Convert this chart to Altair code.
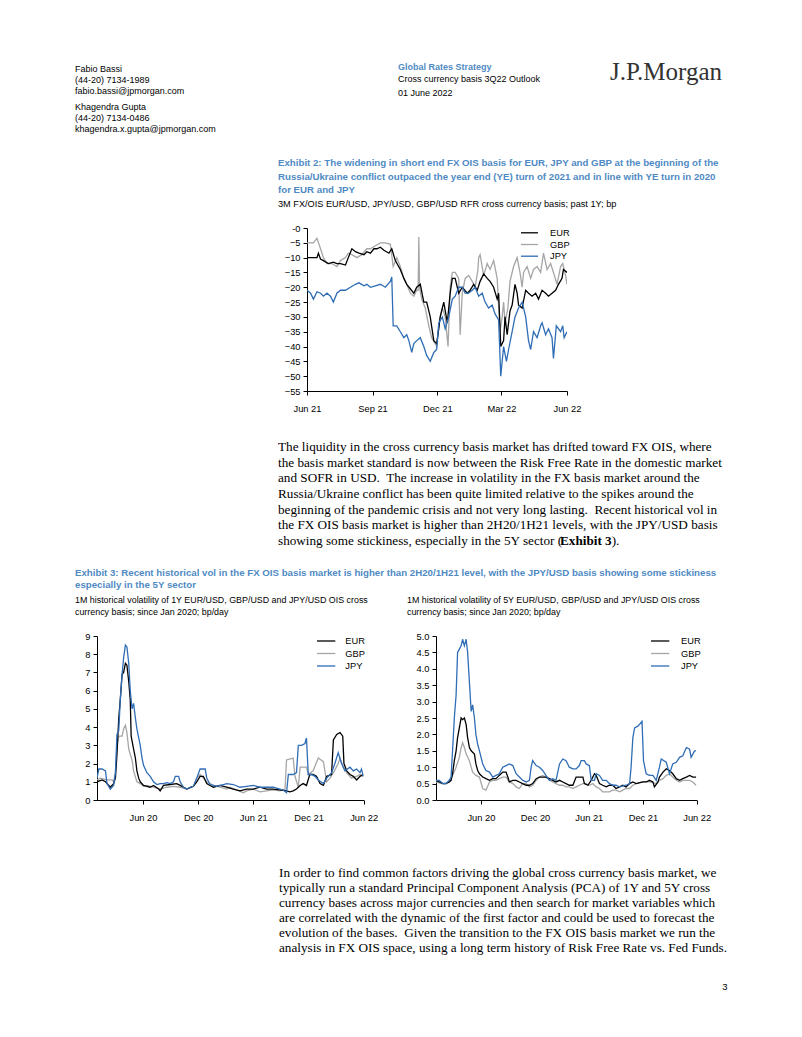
import altair as alt
import pandas as pd

# ---------------- data ----------------
series_names = ["EUR", "GBP", "JPY"]
series_colors = {"EUR": "#000000", "GBP": "#a6a6a6", "JPY": "#2f6db5"}

# Exhibit 2: 3M FX/OIS basis, past 1Y (days since 2021-06-01, bp)
ex2_start = "2021-06-01"
ex2_eur_days = [0, 9, 14, 16, 19, 23, 30, 37, 42, 47, 54, 58, 63, 68, 73, 80, 84, 89, 94, 98, 103, 108, 115, 119,
                124, 131, 136, 140, 145, 150, 154, 159, 164, 168, 173, 178, 182, 185, 187, 192, 197, 201, 204, 208,
                213, 218, 225, 229, 234, 239, 243, 248, 253, 257, 262, 267, 269, 272, 276, 278, 281, 285, 288, 292,
                295, 297, 302, 307, 311, 316, 321, 325, 330, 335, 339, 344, 349, 353, 358, 360, 365]
ex2_eur_vals = [-10, -10, -10, -8.5, -10.5, -11, -12, -11.5, -12, -12, -12.5, -10, -7, -8, -8.5, -9, -8, -8.5, -7, -7,
                -6.5, -7.5, -8.5, -7, -11, -14, -17, -19, -20.5, -22, -20, -19, -25, -25, -30, -38, -39, -34, -30,
                -25, -32, -22, -17, -17, -22, -20, -22, -21, -19, -21, -18, -15.5, -17, -18, -20, -24, -22, -40,
                -38, -30, -36, -28, -26, -19, -22, -26, -27, -21, -22, -23, -22, -24, -21, -22, -23, -22, -21, -19,
                -17, -14, -15]
ex2_gbp_days = [0, 9, 14, 19, 23, 28, 35, 42, 47, 54, 58, 63, 70, 77, 84, 89, 96, 103, 110, 117, 121, 126, 131, 136,
                140, 145, 150, 154, 156, 157, 158, 161, 166, 171, 175, 180, 182, 186, 190, 194, 198, 201, 204, 208,
                213, 215, 218, 222, 227, 232, 236, 240, 241, 243, 248, 253, 257, 262, 267, 271, 274, 276, 278, 282,
                285, 290, 295, 299, 302, 304, 309, 314, 318, 323, 328, 332, 337, 342, 346, 351, 356, 359, 363, 365]
ex2_gbp_vals = [-5, -5, -3.5, -7, -10, -12, -12, -13, -11, -10, -8.5, -9, -10, -9, -7, -7, -6, -5, -5, -5.5, -13, -10,
                -13, -17, -19, -22, -23, -21, -21, -3, -20, -24, -27, -33, -37, -39, -40, -31, -27, -30, -40, -20, -15,
                -15, -17, -36, -22, -17, -16, -18, -20, -14, -10, -9, -16, -12, -14, -11, -17, -35, -30, -25, -32,
                -27, -18, -13, -10, -15, -20, -15, -13, -17, -14, -13, -15, -8.5, -14, -12, -15, -19, -13, -12, -16,
                -19]
ex2_jpy_days = [0, 5, 9, 14, 19, 23, 28, 33, 37, 42, 47, 54, 61, 68, 73, 80, 84, 89, 96, 103, 110, 117, 119, 121, 126,
                131, 136, 140, 143, 147, 150, 154, 159, 164, 168, 173, 178, 182, 185, 190, 194, 199, 204, 208, 213, 218,
                222, 227, 232, 236, 241, 246, 250, 255, 260, 264, 269, 272, 276, 280, 283, 288, 292, 297, 302, 307,
                311, 314, 318, 323, 328, 330, 335, 339, 344, 346, 350, 356, 359, 361, 365]
ex2_jpy_vals = [-21, -22, -24, -21.5, -22, -23, -22, -23, -25, -22, -21, -21, -20, -19, -18.5, -19.5, -19, -20, -19.5,
                -19, -20, -18, -16.5, -33, -33, -35, -37, -36, -38, -42, -39, -38, -37, -40, -43, -45, -42, -41, -32,
                -30, -34, -30, -24, -23, -20, -20, -22, -22, -21, -20, -23, -22, -25, -27, -26, -29, -31, -50, -40,
                -45, -41, -35, -30, -27, -25, -30, -38, -41, -35, -37, -33, -32, -36, -34, -37, -44, -33, -35, -33,
                -37, -35]

# Exhibit 3: 1M historical vol (days since 2020-01-01, bp/day)
ex3_start = "2020-01-01"
vol1y_eur_days = [0, 17, 28, 39, 44, 55, 61, 66, 72, 77, 83, 88, 94, 99, 105, 110, 113, 121, 127, 132, 138, 143, 154,
                  165, 176, 187, 204, 209, 220, 242, 264, 275, 297, 319, 330, 341, 352, 363, 385, 407, 429, 451, 473,
                  495, 517, 539, 561, 583, 605, 627, 638, 649, 660, 672, 682, 693, 704, 715, 726, 738, 749, 760, 776,
                  782, 793, 804, 813, 817, 826, 837, 848, 859, 870, 881]
vol1y_eur_vals = [1.0, 1.1, 1.0, 0.8, 0.7, 0.9, 1.2, 2.5, 4.5, 5.5, 6.9, 7.0, 7.5, 7.4, 6.5, 5.5, 3.5, 2.8, 2.3, 1.6,
                  1.2, 1.0, 0.8, 0.75, 0.7, 0.8, 0.6, 0.5, 0.8, 0.85, 0.9, 0.8, 0.6, 0.75, 1.0, 1.3, 1.3, 0.9, 0.7, 0.8,
                  0.7, 0.6, 0.5, 0.6, 0.6, 0.7, 0.6, 0.6, 0.55, 0.5, 0.45, 0.5, 0.6, 0.8, 0.9, 0.8, 1.4, 1.4, 1.3, 0.9,
                  0.8, 1.3, 1.4, 3.3, 3.6, 3.7, 3.5, 2.0, 1.6, 1.4, 1.3, 1.1, 1.3, 1.4]
vol1y_gbp_days = [0, 11, 33, 50, 55, 61, 66, 72, 83, 88, 94, 99, 105, 110, 116, 121, 132, 143, 154, 165, 187, 209, 231,
                  253, 275, 297, 319, 330, 341, 352, 363, 385, 407, 429, 440, 462, 484, 495, 517, 539, 561, 583, 605,
                  622, 627, 649, 655, 666, 672, 693, 699, 715, 732, 749, 760, 771, 782, 798, 804, 815, 826, 842, 859,
                  870, 881]
vol1y_gbp_vals = [1.1, 1.2, 1.1, 1.1, 1.0, 1.5, 3.0, 3.5, 3.5, 3.9, 4.1, 3.7, 2.8, 2.5, 2.2, 1.6, 1.0, 0.9, 0.75, 0.8,
                  0.7, 0.6, 0.7, 0.75, 0.7, 0.6, 0.75, 1.2, 1.4, 1.2, 1.0, 0.8, 0.7, 0.6, 0.7, 0.55, 0.4, 0.5, 0.6,
                  0.45, 0.5, 0.55, 0.5, 0.6, 2.2, 2.3, 1.3, 0.7, 1.8, 1.8, 1.4, 1.6, 2.3, 2.1, 1.0, 1.2, 1.5, 2.0, 2.3,
                  1.8, 1.5, 1.2, 1.3, 1.4, 1.3]
vol1y_jpy_days = [0, 6, 17, 28, 33, 44, 55, 61, 66, 72, 77, 83, 88, 94, 99, 105, 110, 116, 121, 127, 132, 143, 149, 154,
                  165, 176, 187, 198, 209, 220, 231, 242, 253, 259, 270, 275, 286, 297, 308, 319, 330, 341, 358, 363,
                  374, 385, 396, 407, 418, 429, 451, 473, 495, 517, 539, 561, 583, 605, 616, 627, 633, 649, 660, 666,
                  677, 688, 693, 699, 710, 721, 732, 749, 760, 776, 787, 798, 809, 820, 837, 848, 859, 870, 875, 881]
vol1y_jpy_vals = [1.2, 1.7, 1.7, 1.6, 0.9, 0.6, 0.8, 1.5, 3.6, 3.8, 5.5, 6.9, 7.8, 8.5, 8.4, 7.5, 6.0, 5.0, 5.3, 4.5,
                  3.9, 3.0, 2.3, 1.9, 1.5, 1.3, 1.0, 0.85, 0.9, 0.9, 0.95, 0.9, 1.0, 1.3, 1.3, 1.0, 0.7, 0.6, 0.7, 0.75,
                  1.2, 1.7, 1.7, 1.2, 0.85, 0.8, 0.75, 0.8, 0.85, 0.9, 0.85, 0.7, 0.75, 0.8, 0.7, 0.7, 0.7, 0.6, 0.55,
                  0.4, 1.4, 1.4, 1.5, 3.0, 3.0, 3.1, 3.4, 1.4, 1.4, 1.3, 1.1, 0.9, 1.2, 1.5, 2.0, 2.6, 2.0, 1.6, 1.8,
                  1.6, 1.7, 1.5, 1.7, 1.3]

vol5y_eur_days = [0, 11, 23, 34, 45, 51, 56, 62, 68, 73, 79, 85, 90, 96, 102, 107, 113, 119, 130, 135, 141, 147, 158,
                  169, 181, 192, 203, 214, 226, 237, 243, 248, 260, 271, 282, 293, 305, 316, 327, 339, 350, 361, 372,
                  384, 395, 406, 418, 429, 440, 451, 463, 474, 497, 502, 514, 525, 536, 542, 553, 564, 576, 587, 598,
                  609, 621, 632, 643, 655, 666, 677, 700, 711, 722, 734, 739, 751, 756, 768, 779, 790, 801, 813, 824,
                  835, 847, 858, 869, 880]
vol5y_eur_vals = [0.6, 0.55, 0.5, 0.5, 0.55, 0.6, 0.8, 1.2, 1.5, 1.9, 2.2, 2.5, 2.45, 2.5, 2.3, 1.9, 1.6, 1.5, 1.4,
                  1.1, 0.9, 0.8, 0.7, 0.65, 0.6, 0.65, 0.65, 0.75, 0.85, 0.85, 0.7, 0.55, 0.6, 0.6, 0.55, 0.5, 0.45,
                  0.45, 0.5, 0.65, 0.7, 0.7, 0.7, 0.65, 0.6, 0.55, 0.6, 0.55, 0.5, 0.45, 0.45, 0.7, 0.7, 0.5, 0.45,
                  0.6, 0.8, 0.75, 0.5, 0.45, 0.4, 0.45, 0.45, 0.35, 0.4, 0.45, 0.4, 0.5, 0.55, 0.5, 0.55, 0.55, 0.6,
                  0.55, 0.4, 0.55, 0.7, 0.85, 0.95, 0.9, 0.8, 0.65, 0.6, 0.65, 0.7, 0.75, 0.7, 0.7]
vol5y_gbp_days = [0, 23, 45, 56, 68, 79, 85, 90, 96, 102, 113, 119, 124, 135, 147, 158, 169, 181, 192, 203, 214, 226,
                  237, 248, 260, 271, 282, 293, 305, 316, 327, 339, 350, 361, 372, 384, 395, 406, 418, 429, 440, 451,
                  463, 474, 485, 497, 508, 519, 530, 542, 553, 564, 587, 598, 609, 621, 632, 643, 655, 666, 677, 700,
                  722, 745, 756, 768, 779, 790, 801, 813, 824, 835, 847, 858, 869, 880]
vol5y_gbp_vals = [0.55, 0.5, 0.55, 0.75, 1.0, 1.3, 1.6, 1.75, 1.6, 1.4, 1.2, 1.0, 0.85, 0.75, 0.7, 0.35, 0.3, 0.55,
                  0.6, 0.6, 0.65, 0.7, 0.7, 0.55, 0.5, 0.4, 0.35, 0.5, 0.5, 0.4, 0.45, 0.6, 0.7, 0.75, 0.7, 0.6, 0.55,
                  0.5, 0.45, 0.45, 0.4, 0.4, 0.35, 0.4, 0.45, 0.5, 0.5, 0.45, 0.5, 0.4, 0.35, 0.25, 0.25, 0.3, 0.3,
                  0.25, 0.3, 0.35, 0.35, 0.45, 0.5, 0.55, 0.55, 0.5, 0.6, 0.65, 0.75, 0.8, 0.7, 0.6, 0.55, 0.6, 0.6,
                  0.6, 0.55, 0.45]
vol5y_jpy_days = [0, 11, 23, 34, 45, 51, 56, 62, 68, 73, 79, 85, 90, 96, 102, 107, 113, 119, 124, 130, 135, 141, 147,
                  158, 169, 181, 192, 203, 214, 226, 237, 248, 260, 271, 282, 293, 305, 316, 322, 327, 339, 350, 361,
                  372, 384, 395, 406, 418, 429, 440, 451, 463, 474, 485, 491, 502, 508, 519, 525, 536, 542, 553, 564,
                  576, 587, 598, 609, 621, 643, 655, 660, 666, 672, 683, 688, 697, 702, 711, 722, 734, 745, 756, 762,
                  779, 790, 801, 813, 824, 835, 847, 858, 863, 869, 875, 880]
vol5y_jpy_vals = [0.6, 0.6, 0.5, 0.5, 0.6, 0.7, 1.5, 2.5, 3.2, 4.5, 4.6, 4.7, 4.9, 4.7, 4.9, 4.5, 3.6, 2.7, 2.9, 2.5,
                  2.0, 1.7, 1.5, 1.1, 0.9, 0.85, 0.7, 0.75, 0.8, 1.0, 1.05, 1.1, 1.05, 0.8, 0.7, 0.6, 0.55, 0.6, 1.0,
                  1.2, 1.05, 1.0, 0.9, 0.75, 0.6, 0.65, 0.6, 1.1, 1.25, 1.2, 1.0, 0.95, 0.95, 1.05, 1.2, 1.2, 1.1,
                  1.05, 0.6, 0.6, 0.8, 0.75, 0.6, 0.6, 0.5, 0.45, 0.45, 0.4, 0.45, 0.5, 1.0, 1.9, 2.2, 2.25, 2.3,
                  2.4, 1.2, 0.8, 0.75, 0.75, 0.6, 1.0, 1.25, 1.15, 0.8, 1.1, 1.15, 1.3, 1.35, 1.6, 1.55, 1.3, 1.4,
                  1.5, 1.5]

ex2_ticks = ["2021-06-01", "2021-09-01", "2021-12-01", "2022-03-01", "2022-06-01"]
ex3_ticks = ["2020-06-01", "2020-12-01", "2021-06-01", "2021-12-01", "2022-06-01"]
ex2_yticks = [0, -5, -10, -15, -20, -25, -30, -35, -40, -45, -50, -55]
vol1y_yticks = [0, 1, 2, 3, 4, 5, 6, 7, 8, 9]
vol5y_yticks = [0, 0.5, 1.0, 1.5, 2.0, 2.5, 3.0, 3.5, 4.0, 4.5, 5.0]

# page text
authors_1 = ["Fabio Bassi", "(44-20) 7134-1989", "fabio.bassi@jpmorgan.com"]
authors_2 = ["Khagendra Gupta", "(44-20) 7134-0486", "khagendra.x.gupta@jpmorgan.com"]
header_kicker = "Global Rates Strategy"
header_lines = ["Cross currency basis 3Q22 Outlook"]
header_date = "01 June 2022"
logo = "J.P.Morgan"
ex2_title = ["Exhibit 2: The widening in short end FX OIS basis for EUR, JPY and GBP at the beginning of the",
             "Russia/Ukraine conflict outpaced the year end (YE) turn of 2021 and in line with YE turn in 2020",
             "for EUR and JPY"]
ex2_sub = "3M FX/OIS EUR/USD, JPY/USD, GBP/USD RFR cross currency basis; past 1Y; bp"
para1 = ["The liquidity in the cross currency basis market has drifted toward FX OIS, where",
         "the basis market standard is now between the Risk Free Rate in the domestic market",
         "and SOFR in USD.\u00a0 The increase in volatility in the FX basis market around the",
         "Russia/Ukraine conflict has been quite limited relative to the spikes around the",
         "beginning of the pandemic crisis and not very long lasting.\u00a0 Recent historical vol in",
         "the FX OIS basis market is higher than 2H20/1H21 levels, with the JPY/USD basis"]
para1_last = ["showing some stickiness, especially in the 5Y sector (", "Exhibit 3", ")."]
ex3_title = ["Exhibit 3: Recent historical vol in the FX OIS basis market is higher than 2H20/1H21 level, with the JPY/USD basis showing some stickiness",
             "especially in the 5Y sector"]
ex3_sub_left = ["1M historical volatility of 1Y EUR/USD, GBP/USD and JPY/USD OIS cross",
                "currency basis; since Jan 2020; bp/day"]
ex3_sub_right = ["1M historical volatility of 5Y EUR/USD, GBP/USD and JPY/USD OIS cross",
                 "currency basis; since Jan 2020; bp/day"]
para2 = ["In order to find common factors driving the global cross currency basis market, we",
         "typically run a standard Principal Component Analysis (PCA) of 1Y and 5Y cross",
         "currency bases across major currencies and then search for market variables which",
         "are correlated with the dynamic of the first factor and could be used to forecast the",
         "evolution of the bases.\u00a0 Given the transition to the FX OIS basis market we run the",
         "analysis in FX OIS space, using a long term history of Risk Free Rate vs. Fed Funds."]
page_number = "3"

# ---------------- styling ----------------
SANS = "Liberation Sans, Arial, sans-serif"
SERIF = "Liberation Serif, Times New Roman, serif"
TITLE_BLUE = "#4f8ac4"
PAGE_W = 770
AX_FS = 9.3
BODY_FS = 13.2
dummy = pd.DataFrame({"k": [0]})


def series_df(start, days, vals, name):
    d = pd.Timestamp(start) + pd.to_timedelta(days, unit="D")
    return pd.DataFrame({"date": d, "value": vals, "series": name})


def dt(s):
    t = pd.Timestamp(s)
    return alt.DateTime(year=t.year, month=t.month, date=t.day)


def txt(lines, x, y, size, font, color="#000000", weight="normal", lh=None, align="left"):
    return alt.Chart(dummy).mark_text(
        text=lines, font=font, fontSize=size, fontWeight=weight, color=color,
        align=align, baseline="alphabetic", lineHeight=lh if lh else size * 1.2,
    ).encode(x=alt.value(x), y=alt.value(y))


def panel(marks, h):
    return alt.layer(*marks).properties(width=PAGE_W, height=h)


def spacer(w, h):
    return alt.Chart(dummy).mark_text(text="").encode(
        x=alt.value(0), y=alt.value(0)).properties(width=w, height=h)


def line_chart(dfs, start, end, ticks, ydom, yticks, w, h, legend, label_expr=None, yfmt=None):
    xenc = alt.X("date:T", scale=alt.Scale(domain=[dt(start), dt(end)]),
                 axis=alt.Axis(values=[dt(t) for t in ticks], format="%b %y", title=None,
                               labelFlush=False, labelOverlap=False, tickSize=4, labelPadding=9,
                               grid=False))
    yaxis_kw = dict(values=yticks, title=None, tickSize=4, labelPadding=3, grid=False,
                    labelOverlap=False, labelFlush=False)
    if label_expr:
        yaxis_kw["labelExpr"] = label_expr
    if yfmt:
        yaxis_kw["format"] = yfmt
    yenc = alt.Y("value:Q", scale=alt.Scale(domain=ydom, nice=False, zero=False),
                 axis=alt.Axis(**yaxis_kw))
    layers = []
    for name in ["GBP", "EUR", "JPY"]:
        layers.append(alt.Chart(dfs[name]).mark_line(
            color=series_colors[name], strokeWidth=1.3, clip=True).encode(x=xenc, y=yenc))
    lx0, lx1, tx, ly0, dy = legend
    for i, name in enumerate(series_names):
        yy = ly0 + i * dy
        layers.append(alt.Chart(dummy).mark_rule(color=series_colors[name], strokeWidth=1.3).encode(
            x=alt.value(lx0), x2=alt.value(lx1), y=alt.value(yy)))
        layers.append(alt.Chart(dummy).mark_text(
            text=name, align="left", baseline="middle", font=SANS, fontSize=AX_FS, color="#000000"
        ).encode(x=alt.value(tx), y=alt.value(yy)))
    return alt.layer(*layers).properties(width=w, height=h)


# ---------------- charts ----------------
ex2_dfs = {n: series_df(ex2_start, d, v, n) for n, d, v in [
    ("EUR", ex2_eur_days, ex2_eur_vals), ("GBP", ex2_gbp_days, ex2_gbp_vals), ("JPY", ex2_jpy_days, ex2_jpy_vals)]}
vol1_dfs = {n: series_df(ex3_start, d, v, n) for n, d, v in [
    ("EUR", vol1y_eur_days, vol1y_eur_vals), ("GBP", vol1y_gbp_days, vol1y_gbp_vals),
    ("JPY", vol1y_jpy_days, vol1y_jpy_vals)]}
vol5_dfs = {n: series_df(ex3_start, d, v, n) for n, d, v in [
    ("EUR", vol5y_eur_days, vol5y_eur_vals), ("GBP", vol5y_gbp_days, vol5y_gbp_vals),
    ("JPY", vol5y_jpy_days, vol5y_jpy_vals)]}

chart2 = line_chart(ex2_dfs, "2021-06-01", "2022-06-01", ex2_ticks, [-55, 0], ex2_yticks, 260, 163,
                    (214, 231, 243, 4.8, 11.7),
                    label_expr="datum.value == 0 ? '-0' : datum.label")
chart3a = line_chart(vol1_dfs, "2020-01-01", "2022-06-01", ex3_ticks, [0, 9], vol1y_yticks, 266.6, 164,
                     (220, 238.3, 248.3, 5, 12.5))
chart3b = line_chart(vol5_dfs, "2020-01-01", "2022-06-01", ex3_ticks, [0, 5], vol5y_yticks, 260.7, 164,
                     (215, 233.3, 245, 5, 12.5), yfmt=".1f")

# ---------------- page rows ----------------
rowA = panel([
    txt(authors_1, 67, 64.2, 9, SANS, lh=11),
    txt(authors_2, 67, 102.2, 9, SANS, lh=11),
    txt(header_kicker, 390, 62.2, 9, SANS, color=TITLE_BLUE, weight="bold"),
    txt(header_lines, 390, 74.2, 9, SANS),
    txt(header_date, 390, 88.2, 9, SANS),
    txt(logo, 714, 72, 25, SERIF, color="#333333", align="right"),
    txt(ex2_title, 270, 158, 9.7, SANS, color=TITLE_BLUE, weight="bold", lh=13.5),
    txt(ex2_sub, 270, 198.8, 9.2, SANS),
], 213.5)

rowB = alt.hconcat(spacer(298.7, 163), chart2, spacing=0, bounds="flush")

bl = 37.4
rowC = panel([
    txt(para1, 270, bl, BODY_FS, SERIF, lh=15.55),
    txt(para1_last[0], 270, bl + 6 * 15.55, BODY_FS, SERIF),
    txt(para1_last[1], 552, bl + 6 * 15.55, BODY_FS, SERIF, weight="bold"),
    txt(para1_last[2], 603.7, bl + 6 * 15.55, BODY_FS, SERIF),
    txt(ex3_title, 67, 161.6, 9.7, SANS, color=TITLE_BLUE, weight="bold", lh=12.8),
    txt(ex3_sub_left, 67, 189.2, 8.9, SANS, lh=12),
    txt(ex3_sub_right, 399, 189.2, 8.9, SANS, lh=12),
], 215.9)

rowD = alt.hconcat(spacer(88.7, 164), chart3a, spacer(71.7, 164), chart3b, spacing=0, bounds="flush")

rowE = panel([
    txt(para2, 271, 54.2, BODY_FS, SERIF, lh=15),
    txt(page_number, 717, 167, 9.5, SANS, align="center"),
], 180)

page = alt.vconcat(rowA, rowB, rowC, rowD, rowE, spacing=0).properties(
    padding=0, background="#ffffff"
).configure_view(stroke=None).configure_axis(
    domainColor="#000000", tickColor="#000000", labelColor="#000000", domainWidth=1, tickWidth=1,
    labelFont=SANS, labelFontSize=AX_FS,
)

page.save("out.html", embed_options={"renderer": "svg", "actions": False})
